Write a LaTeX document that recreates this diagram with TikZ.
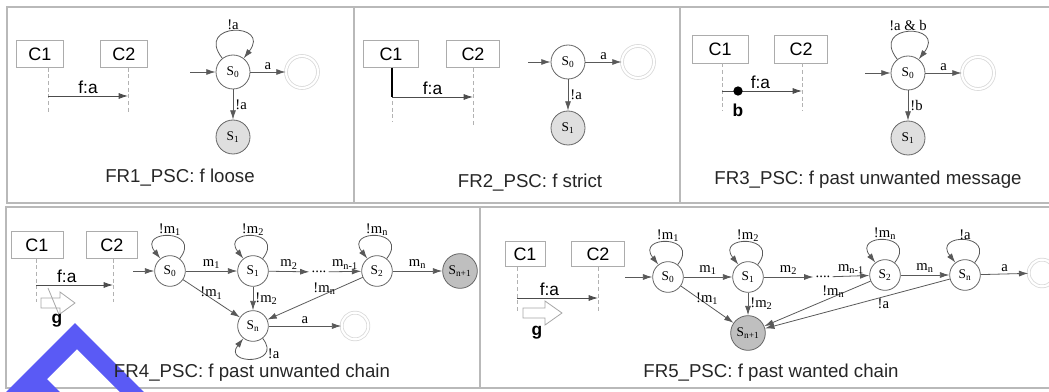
\documentclass[tikz,border=0pt]{standalone}
\usepackage{fontspec}
\setmainfont{Liberation Sans}
\newfontfamily\tms{Liberation Serif}
\usetikzlibrary{arrows.meta, positioning, calc}
\definecolor{wmblue}{RGB}{90,90,245}

\begin{document}
\begin{tikzpicture}[
	x=0.75pt, y=-0.75pt,
	panel/.style={draw=gray!55, line width=1pt},
	comp/.style={rectangle, draw=gray!65, minimum width=39pt, minimum height=20pt, inner sep=0pt, font=\fontsize{13.5}{15}\selectfont},
	lifeline/.style={draw=gray!60, densely dashed, line width=0.5pt},
	msg/.style={-{Latex[length=7pt, width=4.5pt]}, draw=black!70, line width=0.6pt},
	msglabel/.style={font=\fontsize{13}{15}\selectfont, inner sep=1.5pt},
	hollow/.style={draw=gray!70, line width=0.6pt, fill=white},
	state/.style={circle, draw=black!60, line width=0.6pt, minimum size=25.5pt, inner sep=0pt, font=\tms\fontsize{10}{11}\selectfont},
	lstate/.style={state, minimum size=23pt},
	bad/.style={fill=gray!25},
	worse/.style={fill=gray!50, minimum size=26pt},
	final/.style={circle, draw=gray!30, double=white, double distance=1.6pt, line width=0.6pt, minimum size=24pt},
	arrow/.style={-{Latex[length=7pt, width=4.5pt]}, draw=black!65, line width=0.6pt},
	selfloop/.style={arrow, out=128, in=52, looseness=5.5},
	lselfloop/.style={arrow, out=52, in=128, looseness=5},
	lbl/.style={font=\tms\fontsize{11}{12}\selectfont, inner sep=1.5pt},
	caption/.style={font=\fontsize{14}{16}\selectfont, text=black!85}
	]
	\useasboundingbox (0,0) rectangle (1049,392);
	
	% Panel frames
	\draw[panel] (7,7) rectangle (354,203);
	\draw[panel] (354,7) rectangle (680,203);
	\draw[panel] (680,7) rectangle (1055,203);
	\draw[panel] (6,207) rectangle (480,388);
	\draw[panel] (480,207) rectangle (1055,388);
	
	% Watermark
	\fill[wmblue] (6,392) -- (75,323) -- (144,392) -- (120,392) -- (77,349) -- (47,379) -- (60,392) -- cycle;
	
	% FR1: f loose
	\node[comp, minimum width=35pt] (c1a) at (40,54) {C1};
	\node[comp, minimum width=35pt] (c2a) at (124,54) {C2};
	\coordinate (l1a) at (48,113);
	\coordinate (l2a) at (128,113);
	\coordinate (fa1) at (48,96);
	\coordinate (fa2) at (128,96);
	\draw[lifeline] (c1a.south -| l1a) -- (l1a);
	\draw[lifeline] (c2a.south -| l2a) -- (l2a);
	\draw[msg] (fa1) -- node[msglabel, above] {f:a} (fa2);
	
	\node[state] (s0a) at (233,72) {S\textsubscript{0}};
	\node[final] (acca) at (302,72) {};
	\node[state, bad] (s1a) at (233,137) {S\textsubscript{1}};
	\coordinate (ina) at (190,72);
	\draw[arrow] (ina) -- (s0a);
	\draw[arrow] (s0a) -- node[lbl, above] {a} (acca);
	\draw[arrow] (s0a) -- node[lbl, right] {!a} (s1a);
	\draw[selfloop] (s0a) to node[lbl, above=-1pt] {!a} (s0a);
	\node[caption] (capa) at (180,178) {FR1\_PSC: f loose};
	
	% FR2: f strict
	\node[comp, minimum width=41pt] (c1b) at (391,54) {C1};
	\node[comp, minimum width=40pt] (c2b) at (473,54) {C2};
	\coordinate (l1b) at (392,121);
	\coordinate (l2b) at (473,127);
	\coordinate (fb1) at (392,97);
	\coordinate (fb2) at (473,97);
	\draw[lifeline] (c1b.south -| l1b) -- (l1b);
	\draw[lifeline] (c2b.south -| l2b) -- (l2b);
	\draw[line width=2.2pt] (c1b.south -| fb1) -- (fb1);
	\draw[msg] (fb1) -- node[msglabel, above] {f:a} (fb2);
	
	\node[state] (s0b) at (568,62) {S\textsubscript{0}};
	\node[final] (accb) at (638,62) {};
	\node[state, bad] (s1b) at (568,128) {S\textsubscript{1}};
	\coordinate (inb) at (528,62);
	\draw[arrow] (inb) -- (s0b);
	\draw[arrow] (s0b) -- node[lbl, above] {a} (accb);
	\draw[arrow] (s0b) -- node[lbl, right] {!a} (s1b);
	\node[caption] (capb) at (530,183) {FR2\_PSC: f strict};
	
	% FR3: f past unwanted message
	\node[comp, minimum width=42pt, minimum height=21pt] (c1c) at (720,49) {C1};
	\node[comp, minimum width=40pt, minimum height=21pt] (c2c) at (801,49) {C2};
	\coordinate (l1c) at (722,110);
	\coordinate (l2c) at (802,110);
	\coordinate (fc1) at (722,91);
	\coordinate (fc2) at (802,91);
	\draw[lifeline] (c1c.south -| l1c) -- (l1c);
	\draw[lifeline] (c2c.south -| l2c) -- (l2c);
	\draw[msg] (fc1) -- node[msglabel, above, pos=.48] {f:a} (fc2);
	\node[circle, fill=black, minimum size=7pt, inner sep=0pt] (dotc) at (738,91) {};
	\node[msglabel, font=\bfseries\fontsize{13}{15}\selectfont, below=4pt of dotc] (bc) {b};
	
	\node[state] (s0c) at (908,73) {S\textsubscript{0}};
	\node[final] (accc) at (978,73) {};
	\node[state, bad] (s1c) at (908,138) {S\textsubscript{1}};
	\coordinate (inc) at (865,73);
	\draw[arrow] (inc) -- (s0c);
	\draw[arrow] (s0c) -- node[lbl, above] {a} (accc);
	\draw[arrow] (s0c) -- node[lbl, right] {!b} (s1c);
	\draw[selfloop] (s0c) to node[lbl, above=-1pt] {!a \& b} (s0c);
	\node[caption] (capc) at (868,180) {FR3\_PSC: f past unwanted message};
	
	% FR4: f past unwanted chain
	\node[comp, minimum width=39pt] (c1d) at (37,245) {C1};
	\node[comp, minimum width=38pt] (c2d) at (112,245) {C2};
	\coordinate (l1d) at (36,302);
	\coordinate (l2d) at (113,302);
	\coordinate (fd1) at (36,285);
	\coordinate (fd2) at (113,285);
	\draw[lifeline] (c1d.south -| l1d) -- (l1d);
	\draw[lifeline] (c2d.south -| l2d) -- (l2d);
	\draw[msg] (fd1) -- node[msglabel, above, pos=.4] {f:a} (fd2);
	\draw[hollow, shift={(41,303)}] (0,-5) -- (19,-5) -- (19,-11) -- (34,0) -- (19,11) -- (19,5) -- (0,5) -- cycle;
	\draw[gray!70, line width=0.6pt] (48,288) -- (60,317);
	\node[msglabel, font=\bfseries\fontsize{13}{15}\selectfont] (gd) at (57,321) {g};
	
	\node[lstate] (s0d) at (170,271) {S\textsubscript{0}};
	\node[lstate] (s1d) at (253,271) {S\textsubscript{1}};
	\node[lbl] (dotsd) at (319,272) {....};
	\node[lstate] (s2d) at (377,271) {S\textsubscript{2}};
	\node[state, worse] (snd1) at (460,271) {S\textsubscript{n+1}};
	\node[lstate] (snd) at (253,326) {S\textsubscript{n}};
	\node[final, minimum size=20pt] (accd) at (355,326) {};
	\coordinate (ind) at (133,271);
	\draw[arrow] (ind) -- (s0d);
	\draw[arrow] (s0d) -- node[lbl, above] {m\textsubscript{1}} (s1d);
	\draw[arrow] (s1d) -- node[lbl, above] {m\textsubscript{2}} (dotsd);
	\draw[arrow] (dotsd) -- node[lbl, above] {m\textsubscript{n-1}} (s2d);
	\draw[arrow] (s2d) -- node[lbl, above] {m\textsubscript{n}} (snd1);
	\draw[arrow] (s0d) -- node[lbl, pos=.5, yshift=4pt] {!m\textsubscript{1}} (snd);
	\draw[arrow] (s1d) -- node[lbl, right] {!m\textsubscript{2}} (snd);
	\draw[arrow] (s2d) -- node[lbl, pos=.4, yshift=4pt] {!m\textsubscript{n}} (snd);
	\draw[arrow] (snd) -- node[lbl, above] {a} (accd);
	\draw[lselfloop] (s0d) to node[lbl, above=-1pt] {!m\textsubscript{1}} (s0d);
	\draw[lselfloop] (s1d) to node[lbl, above=-1pt] {!m\textsubscript{2}} (s1d);
	\draw[lselfloop] (s2d) to node[lbl, above=-1pt] {!m\textsubscript{n}} (s2d);
	\draw[arrow] (snd) to[out=-52, in=-128, looseness=4.5] node[lbl, right, pos=.25] {!a} (snd);
	\node[caption] (capd) at (252,373) {FR4\_PSC: f past unwanted chain};
	
	% FR5: f past wanted chain
	\node[comp, minimum width=30pt, minimum height=19pt] (c1e) at (525,254) {C1};
	\node[comp, minimum width=40pt, minimum height=19pt] (c2e) at (598,254) {C2};
	\coordinate (l1e) at (517,313);
	\coordinate (l2e) at (598,313);
	\coordinate (fe1) at (517,298);
	\coordinate (fe2) at (598,298);
	\draw[lifeline] (c1e.south -| l1e) -- (l1e);
	\draw[lifeline] (c2e.south -| l2e) -- (l2e);
	\draw[msg] (fe1) -- node[msglabel, above, pos=.4] {f:a} (fe2);
	\draw[hollow, shift={(523,313)}] (0,-5) -- (22,-5) -- (22,-12) -- (39,0) -- (22,12) -- (22,5) -- (0,5) -- cycle;
	\node[msglabel, font=\bfseries\fontsize{13}{15}\selectfont] (ge) at (537,333) {g};
	
	\node[lstate] (s0e) at (668,277) {S\textsubscript{0}};
	\node[lstate] (s1e) at (748,277) {S\textsubscript{1}};
	\node[lbl] (dotse) at (823,277) {....};
	\node[lstate] (s2e) at (885,275) {S\textsubscript{2}};
	\node[lstate] (sne) at (965,275) {S\textsubscript{n}};
	\node[final, minimum size=20pt] (acce) at (1042,273) {};
	\node[state, worse] (snp1e) at (748,333) {S\textsubscript{n+1}};
	\coordinate (ine) at (625,277);
	\draw[arrow] (ine) -- (s0e);
	\draw[arrow] (s0e) -- node[lbl, above] {m\textsubscript{1}} (s1e);
	\draw[arrow] (s1e) -- node[lbl, above] {m\textsubscript{2}} (dotse);
	\draw[arrow] (dotse) -- node[lbl, above] {m\textsubscript{n-1}} (s2e);
	\draw[arrow] (s2e) -- node[lbl, above] {m\textsubscript{n}} (sne);
	\draw[arrow] (sne) -- node[lbl, above] {a} (acce);
	\draw[arrow] (s0e) -- node[lbl, pos=.5, yshift=4pt] {!m\textsubscript{1}} (snp1e);
	\draw[arrow] (s1e) -- node[lbl, right] {!m\textsubscript{2}} (snp1e);
	\draw[arrow] (s2e) -- node[lbl, pos=.35, yshift=4pt] {!m\textsubscript{n}} (snp1e);
	\draw[arrow] (sne) -- node[lbl, pos=.36, below] {!a} (snp1e);
	\draw[lselfloop] (s0e) to node[lbl, above=-1pt] {!m\textsubscript{1}} (s0e);
	\draw[lselfloop] (s1e) to node[lbl, above=-1pt] {!m\textsubscript{2}} (s1e);
	\draw[lselfloop] (s2e) to node[lbl, above=-1pt] {!m\textsubscript{n}} (s2e);
	\draw[lselfloop] (sne) to node[lbl, above=-1pt] {!a} (sne);
	\node[caption] (cape) at (771,373) {FR5\_PSC: f past wanted chain};
	
\end{tikzpicture}
\end{document}
